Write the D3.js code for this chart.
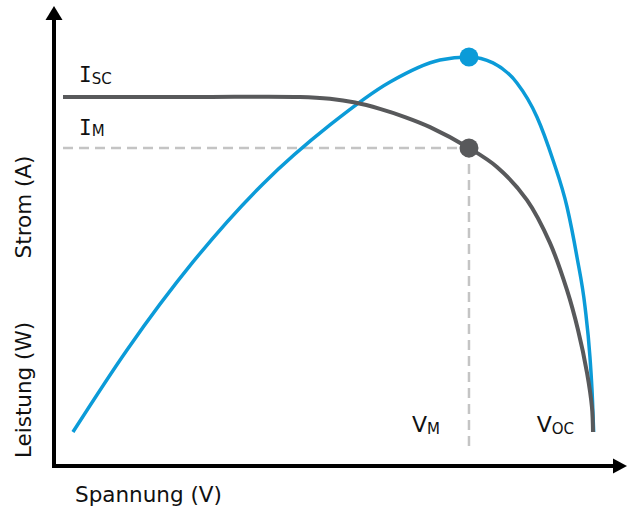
<!DOCTYPE html>
<html>
<head>
<meta charset="utf-8">
<script src="https://cdn.jsdelivr.net/npm/d3@7"></script>
<style>
  html, body { margin: 0; padding: 0; background: #fff; }
  svg { display: block; }
  text { font-family: "DejaVu Sans", "Noto Sans", sans-serif; fill: #111; }
</style>
</head>
<body>
<svg id="chart" width="627" height="508"></svg>
<script>
// Solar module characteristic: current (I-V) and power (P-V) over voltage
const voltage = [0, 10, 17.89, 20.15, 22.04, 23.92, 25.81, 27.70, 30.64, 32.75, 35.02, 36.75, 38.04, 38.87, 39.55, 39.92, 40];
const current = [9.00, 9.00, 9.00, 8.95, 8.85, 8.68, 8.46, 8.19, 7.63, 7.12, 6.23, 5.08, 3.81, 2.74, 1.59, 0.67, 0];

const powerVoltage = [0.75, 4.83, 9.81, 15.09, 20.15, 24.68, 28.45, 30.64, 32.45, 34.26, 35.77, 36.98, 38.04, 38.79, 39.40, 39.77, 39.96, 40.05];
const power =        [0, 51.2, 106.1, 154.8, 191.6, 218.4, 232.1, 234, 230.3, 217.8, 196.6, 169.7, 140.4, 109.2, 78.0, 46.8, 20.0, 0];

// Characteristic points
const Isc = 9.0, Im = 7.63, Vm = 30.64, Voc = 40, Pmax = 234;

const axisLabels = { x: "Spannung (V)", yTop: "Strom (A)", yBottom: "Leistung (W)" };

const svg = d3.select("#chart");
const grey = "#58595b", blue = "#0b9bd8", dashGrey = "#c4c4c4";

const x = d3.scaleLinear().domain([0, Voc]).range([63, 593]);
const yI = d3.scaleLinear().domain([0, Isc]).range([432, 97]);
const yP = d3.scaleLinear().domain([0, Pmax]).range([432, 57]);

// Axes with arrow heads
const ax = svg.append("g");
ax.append("line").attr("x1", 54).attr("y1", 468).attr("x2", 54).attr("y2", 17)
  .attr("stroke", "#000").attr("stroke-width", 4);
ax.append("path").attr("d", "M54,6 L45.5,20 L62.5,20 Z").attr("fill", "#000");
ax.append("line").attr("x1", 52).attr("y1", 466).attr("x2", 615).attr("y2", 466)
  .attr("stroke", "#000").attr("stroke-width", 4);
ax.append("path").attr("d", "M627,466 L613,458.5 L613,473.5 Z").attr("fill", "#000");

// Guide lines to the maximum power point
svg.append("line")
  .attr("x1", x(0)).attr("x2", x(Vm)).attr("y1", yI(Im)).attr("y2", yI(Im))
  .attr("stroke", dashGrey).attr("stroke-width", 2.5).attr("stroke-dasharray", "10 6");
svg.append("line")
  .attr("x1", x(Vm)).attr("x2", x(Vm)).attr("y1", yI(Im)).attr("y2", 452)
  .attr("stroke", dashGrey).attr("stroke-width", 2.5).attr("stroke-dasharray", "10 6");

// Curves
const ivLine = d3.line().x((d, i) => x(voltage[i])).y(d => yI(d)).curve(d3.curveCatmullRom.alpha(0.5));
const pvLine = d3.line().x((d, i) => x(powerVoltage[i])).y(d => yP(d)).curve(d3.curveMonotoneX);

svg.append("path").attr("d", pvLine(power))
  .attr("fill", "none").attr("stroke", blue).attr("stroke-width", 3.5);
svg.append("path").attr("d", ivLine(current))
  .attr("fill", "none").attr("stroke", grey).attr("stroke-width", 4);

// Maximum power point markers
svg.append("circle").attr("cx", x(Vm)).attr("cy", yP(Pmax)).attr("r", 9.5).attr("fill", blue);
svg.append("circle").attr("cx", x(Vm)).attr("cy", yI(Im)).attr("r", 9.5).attr("fill", grey);

// Labels with subscripts
function subLabel(xPos, yPos, main, sub, anchor) {
  const t = svg.append("text").attr("x", xPos).attr("y", yPos)
    .attr("text-anchor", anchor || "start");
  t.append("tspan").attr("font-size", main === "I" ? 21 : 22).text(main)
    .style("font-family", main === "I" ? "'DejaVu Sans Mono', monospace" : null);
  t.append("tspan").attr("font-size", 15).attr("dy", 1.5).text(sub);
  return t;
}
subLabel(79, yI(Isc) - 15, "I", "SC");
subLabel(79, yI(Im) - 13, "I", "M");
subLabel(x(Vm) - 29, 432, "V", "M", "end");
subLabel(x(Voc) - 19, 432, "V", "OC", "end");

svg.append("text").attr("x", 75).attr("y", 502).attr("font-size", 21.5).text(axisLabels.x);
svg.append("text").attr("transform", "translate(31,207) rotate(-90)")
  .attr("text-anchor", "middle").attr("font-size", 21.5).text(axisLabels.yTop);
svg.append("text").attr("transform", "translate(31,390) rotate(-90)")
  .attr("text-anchor", "middle").attr("font-size", 21.5).text(axisLabels.yBottom);
</script>
</body>
</html>
